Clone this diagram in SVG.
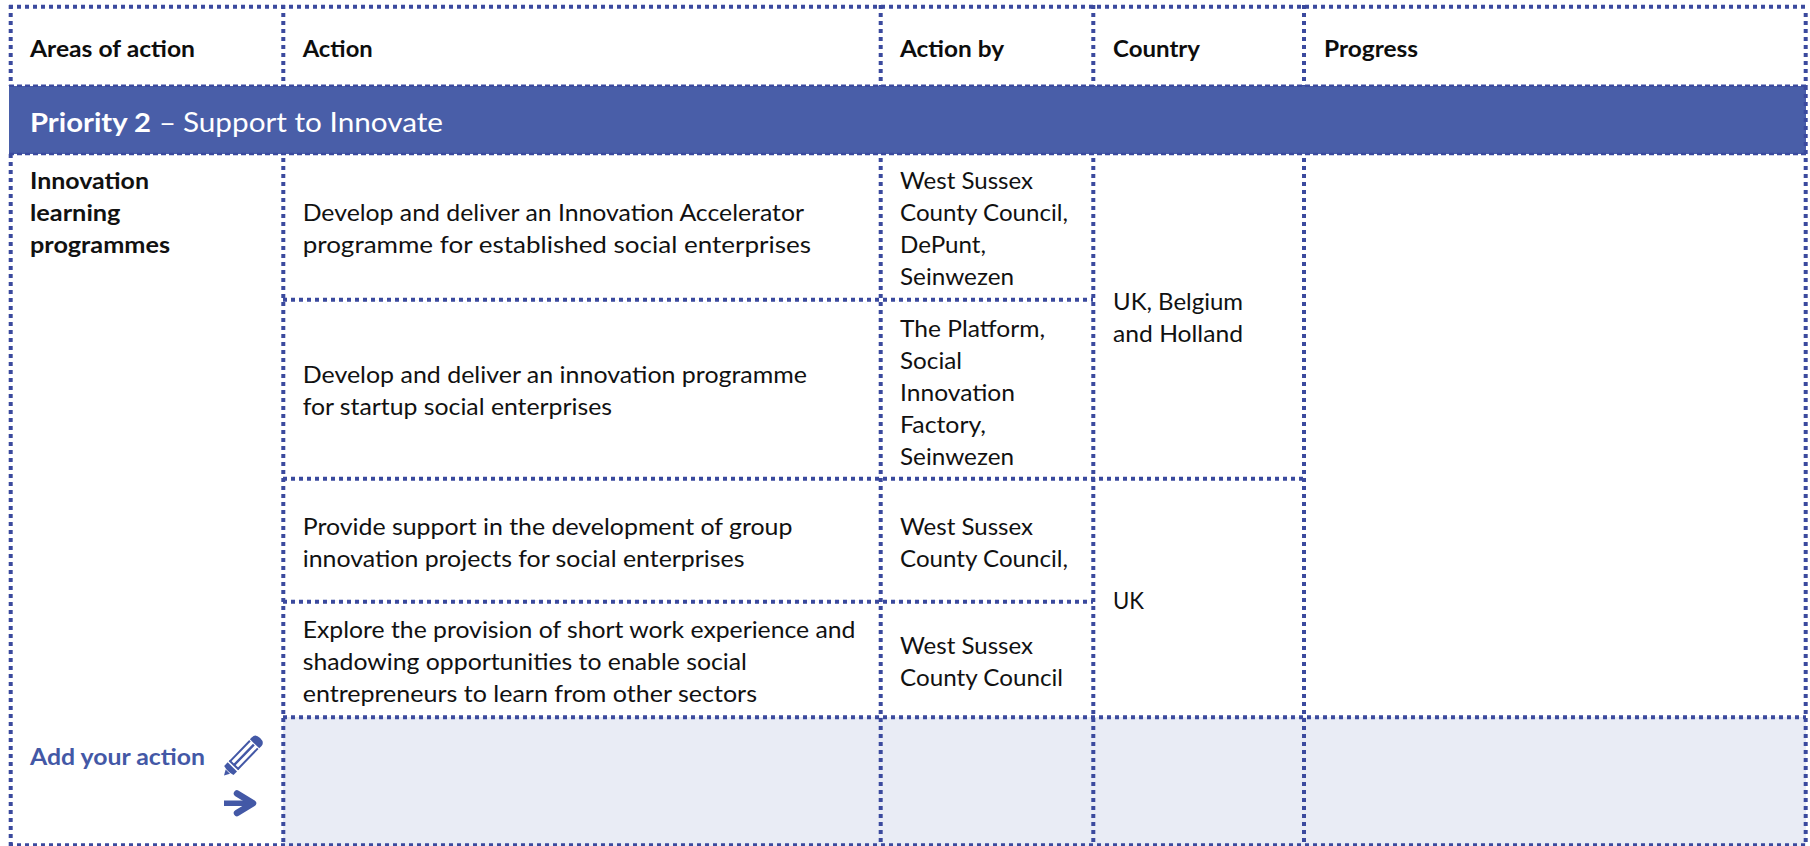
<svg xmlns="http://www.w3.org/2000/svg" width="1810" height="846" viewBox="0 0 1810 846">
<style>
text{font-family:"Lato","Carlito","Liberation Sans",sans-serif;font-size:23px;fill:#111}
.b{font-weight:700}
.h{font-weight:700;fill:#0d0d0d}
.w{fill:#fff;font-size:27px}
.add{font-weight:700;fill:#4358a6}
.d{stroke:#3b4a9e;stroke-width:4;stroke-dasharray:4 4;fill:none}
.t{stroke:#3b4a9e;stroke-width:2.5;stroke-dasharray:5 3;fill:none}
.ic{fill:#4358a6}
</style>
<rect width="1810" height="846" fill="#fff"/>
<g id="fills">
<rect x="283" y="717" width="1523" height="129" fill="#e9ecf5"/>
<rect x="9" y="86" width="1797" height="68" fill="#495ea8"/>
</g>
<g id="connectors">
<path class="d" d="M10.7 5V86M10.7 154V846"/>
<path class="d" d="M283.3 5V86M283.3 158V846"/>
<path class="d" d="M880.7 5V86M880.7 158V846"/>
<path class="d" d="M1093.3 5V86M1093.3 158V846"/>
<path class="d" d="M1304 5V86M1304 158V846"/>
<path class="d" d="M1805.7 13V86M1805.7 86V154M1805.7 158V846"/>
<path class="d" d="M9 6.7H1806"/>
<path class="d" d="M283 299.7H1093"/>
<path class="d" d="M283 478.7H1304"/>
<path class="d" d="M283 601.7H1093"/>
<path class="d" d="M283 717.3H1806"/>
<path class="d" d="M9 845.3H1806"/>
<path class="t" d="M9 85.7H1806"/>
<path class="t" d="M9 154H1806"/>
</g>
<g id="header">
<text class="h" x="30" y="57" textLength="165" lengthAdjust="spacingAndGlyphs">Areas of action</text>
<text class="h" x="302.7" y="57" textLength="70" lengthAdjust="spacingAndGlyphs">Action</text>
<text class="h" x="900" y="57" textLength="104" lengthAdjust="spacingAndGlyphs">Action by</text>
<text class="h" x="1113" y="57" textLength="87" lengthAdjust="spacingAndGlyphs">Country</text>
<text class="h" x="1324" y="57" textLength="94" lengthAdjust="spacingAndGlyphs">Progress</text>
</g>
<g id="priority-band">
<text class="w b" x="30" y="131.5" textLength="121" lengthAdjust="spacingAndGlyphs">Priority 2</text>
<text class="w" x="159" y="131.5" textLength="17" lengthAdjust="spacingAndGlyphs">–</text>
<text class="w" x="183" y="131.5" textLength="260" lengthAdjust="spacingAndGlyphs">Support to Innovate</text>
</g>
<g id="area">
<text class="b" x="30" y="189" textLength="119" lengthAdjust="spacingAndGlyphs">Innovation</text>
<text class="b" x="30" y="221" textLength="90.500" lengthAdjust="spacingAndGlyphs">learning</text>
<text class="b" x="30" y="253" textLength="140" lengthAdjust="spacingAndGlyphs">programmes</text>
</g>
<g id="actions">
<text x="302.700" y="220.700" textLength="501.300" lengthAdjust="spacingAndGlyphs">Develop and deliver an Innovation Accelerator</text>
<text x="302.700" y="252.700" textLength="508.300" lengthAdjust="spacingAndGlyphs">programme for established social enterprises</text>
<text x="302.700" y="383" textLength="504.300" lengthAdjust="spacingAndGlyphs">Develop and deliver an innovation programme</text>
<text x="302.700" y="415" textLength="309.300" lengthAdjust="spacingAndGlyphs">for startup social enterprises</text>
<text x="302.700" y="535" textLength="489.700" lengthAdjust="spacingAndGlyphs">Provide support in the development of group</text>
<text x="302.700" y="567" textLength="441.800" lengthAdjust="spacingAndGlyphs">innovation projects for social enterprises</text>
<text x="302.700" y="637.700" textLength="552.800" lengthAdjust="spacingAndGlyphs">Explore the provision of short work experience and</text>
<text x="302.700" y="669.700" textLength="444.300" lengthAdjust="spacingAndGlyphs">shadowing opportunities to enable social</text>
<text x="302.700" y="701.700" textLength="454.300" lengthAdjust="spacingAndGlyphs">entrepreneurs to learn from other sectors</text>
</g>
<g id="action-by">
<text x="900" y="189" textLength="133" lengthAdjust="spacingAndGlyphs">West Sussex</text>
<text x="900" y="221" textLength="168" lengthAdjust="spacingAndGlyphs">County Council,</text>
<text x="900" y="253" textLength="86" lengthAdjust="spacingAndGlyphs">DePunt,</text>
<text x="900" y="285" textLength="114" lengthAdjust="spacingAndGlyphs">Seinwezen</text>
<text x="900" y="337" textLength="145" lengthAdjust="spacingAndGlyphs">The Platform,</text>
<text x="900" y="369" textLength="62" lengthAdjust="spacingAndGlyphs">Social</text>
<text x="900" y="401" textLength="115" lengthAdjust="spacingAndGlyphs">Innovation</text>
<text x="900" y="433" textLength="86" lengthAdjust="spacingAndGlyphs">Factory,</text>
<text x="900" y="465" textLength="114" lengthAdjust="spacingAndGlyphs">Seinwezen</text>
<text x="900" y="535" textLength="133" lengthAdjust="spacingAndGlyphs">West Sussex</text>
<text x="900" y="567" textLength="168" lengthAdjust="spacingAndGlyphs">County Council,</text>
<text x="900" y="654" textLength="133" lengthAdjust="spacingAndGlyphs">West Sussex</text>
<text x="900" y="686" textLength="163" lengthAdjust="spacingAndGlyphs">County Council</text>
</g>
<g id="country">
<text x="1113" y="310" textLength="130" lengthAdjust="spacingAndGlyphs">UK, Belgium</text>
<text x="1113" y="342" textLength="130" lengthAdjust="spacingAndGlyphs">and Holland</text>
<text x="1113" y="609" textLength="31" lengthAdjust="spacingAndGlyphs">UK</text>
</g>
<g id="add-action">
<text class="add" x="30" y="765" textLength="175" lengthAdjust="spacingAndGlyphs">Add your action</text>
<g id="pencil" class="ic" transform="translate(224 775.500) rotate(-46)">
<path d="M0 0L5.500 -3V3Z"/>
<path d="M7 -6.500H12V6.500H7Q5 0 7 -6.500Z"/>
<path d="M14 -6.500H43V-4.500H14ZM14 4.500H43V6.500H14ZM14 -1.200H43V1.200H14Z"/>
<path d="M13.500 -6.500H15.500V6.500H13.500Z"/>
<path d="M44 -6.500H47Q52 -6.500 52 0Q52 6.500 47 6.500H44Z"/>
</g>
<g id="arrow">
<rect class="ic" x="224" y="800.500" width="24" height="5.500"/>
<path d="M237 793.500L253 803.300L237 813" fill="none" stroke="#4358a6" stroke-width="6.500" stroke-linejoin="round" stroke-linecap="round"/>
</g>
</g>
</svg>
